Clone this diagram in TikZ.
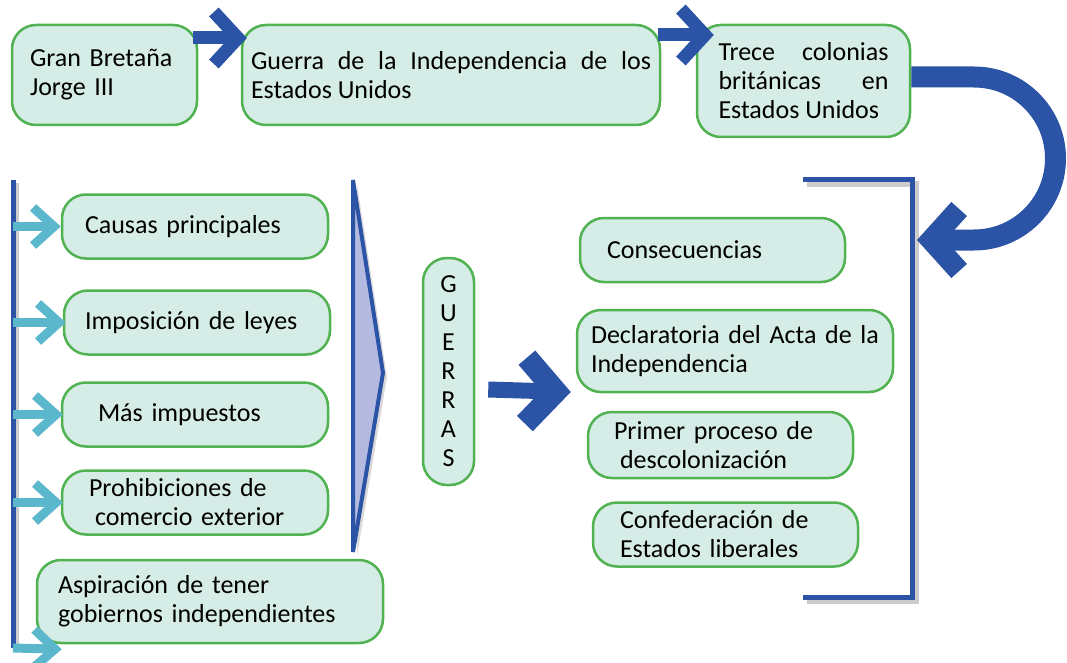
\documentclass[tikz,border=0pt]{standalone}
\usepackage{fontspec}
\setmainfont{Carlito}
\usetikzlibrary{arrows.meta}
\definecolor{azul}{RGB}{43,83,166}
\definecolor{celeste}{RGB}{91,184,204}
\definecolor{verde}{RGB}{80,178,80}
\definecolor{relleno}{RGB}{214,236,231}
\definecolor{lila}{RGB}{180,185,224}
\hyphenpenalty=10000
\exhyphenpenalty=10000
\begin{document}
\begin{tikzpicture}[x=1pt,y=-1pt]
% Estilos
\tikzstyle{caja}=[draw=verde,line width=2.5pt,fill=relleno,rounded corners=24pt,minimum height=64pt,inner ysep=2pt,font=\fontsize{26}{29}\selectfont,align=left]
\tikzstyle{flecha}=[draw=azul,line width=13pt,-{Straight Barb[length=24pt,width=52pt]}]
\tikzstyle{flechita}=[draw=celeste,line width=9pt,-{Straight Barb[length=21pt,width=38pt]}]
\tikzstyle{corchete}=[draw=azul,line width=5pt]
\tikzstyle{sombra}=[draw=black!20,line width=5pt]
\useasboundingbox (0,0) rectangle (1067,663);
% Cajas de arriba
\node[caja,minimum height=100pt,inner xsep=18pt,text width=149pt] (GB) at (104.5,75) {Gran Bretaña\\Jorge III};
\node[caja,minimum height=100pt,inner xsep=9pt,text width=400pt,align=justify] (Guerra) at (451,75) {Guerra de la Independencia de los Estados Unidos};
\node[caja,minimum height=112pt,inner xsep=21.5pt,text width=170pt,align=justify] (Trece) at (803.5,81) {Trece colonias británicas en Estados Unidos};
% Causas
\node[caja,inner xsep=23pt,text width=220pt] (Causas) at (195,226.5) {Causas principales};
\node[caja,inner xsep=21pt,text width=224pt] (Leyes) at (197,322.5) {Imposición de leyes};
\node[caja,inner xsep=36pt,text width=194pt] (Impuestos) at (195,414.5) {Más impuestos};
\node[caja,inner xsep=27pt,text width=212pt] (Comercio) at (195,502.5) {Prohibiciones de\\\hspace*{6pt}comercio exterior};
\node[caja,minimum height=83pt,inner xsep=21pt,text width=304pt] (Aspiracion) at (210,601.5) {Aspiración de tener\\gobiernos independientes};
% Guerras
\node[caja,minimum height=227pt,minimum width=51pt,inner xsep=0pt,text width=51pt,align=center] (Guerras) at (448.5,371.5) {G\\U\\E\\R\\R\\A\\S};
% Consecuencias
\node[caja,inner xsep=27pt,text width=211pt] (Consec) at (712.5,250) {Consecuencias};
\node[caja,minimum height=82pt,inner xsep=14pt,text width=288pt] (Acta) at (735,351) {Declaratoria del Acta de la\\Independencia};
\node[caja,minimum height=66pt,inner xsep=26pt,text width=213pt] (Proceso) at (720.5,445) {Primer proceso de\\\hspace*{6pt}descolonización};
\node[caja,inner xsep=27pt,text width=211pt] (Confed) at (725.5,534.5) {Confederación de\\Estados liberales};
% Corchetes
\coordinate (izqA) at (13,180);
\coordinate (izqB) at (13,648);
\coordinate (derA) at (803,180);
\coordinate (derB) at (912,180);
\coordinate (derC) at (912,597);
\coordinate (derD) at (803,597);
\coordinate (derF) at (917,240);
\draw[sombra] ([shift={(3pt,-3pt)}]izqA) -- ([shift={(3pt,-3pt)}]izqB);
\draw[corchete] (izqA) -- (izqB);
\draw[sombra] ([shift={(4pt,-4pt)}]derA) -- ([shift={(4pt,-4pt)}]derB) -- ([shift={(4pt,-4pt)}]derC) -- ([shift={(4pt,-4pt)}]derD);
\draw[corchete] (derA) -- (derB) -- (derC) -- (derD);
% Triangulo
\fill[black!15] (357,184) -- (387,377) -- (357,556) -- cycle;
\draw[draw=azul,fill=lila,line width=4pt,line join=miter] (353,180) -- (383,373) -- (353,552) -- cycle;
% Flechas
\draw[flecha] ([xshift=-5pt,yshift=37pt]GB.east) -- ([xshift=6pt,yshift=37pt]Guerra.west);
\draw[flecha] ([xshift=-3pt,yshift=40pt]Guerra.east) -- ([xshift=18pt,yshift=46pt]Trece.west);
\draw[flecha,line width=21pt,-{Straight Barb[length=28pt,width=62pt]}] ([yshift=4pt]Trece.east) -- (974,77) arc[start angle=-90,end angle=90,radius=81.5] -- (derF);
\draw[flecha,line width=16pt,-{Straight Barb[length=30pt,width=66pt,line width=22pt]}] ([xshift=13pt,yshift=-18pt]Guerras.east) -- ([xshift=-5pt,yshift=-41pt]Acta.west);
\draw[flechita] (izqA |- Causas.west) -- (Causas.west);
\draw[flechita] (izqA |- Leyes.west) -- ([xshift=3pt]Leyes.west);
\draw[flechita] (izqA |- Impuestos.west) -- ([xshift=2pt]Impuestos.west);
\draw[flechita] (izqA |- Comercio.west) -- ([xshift=2pt]Comercio.west);
\draw[flechita] (izqB) -- ([xshift=26pt,yshift=-5pt]Aspiracion.south west);
\end{tikzpicture}
\end{document}
